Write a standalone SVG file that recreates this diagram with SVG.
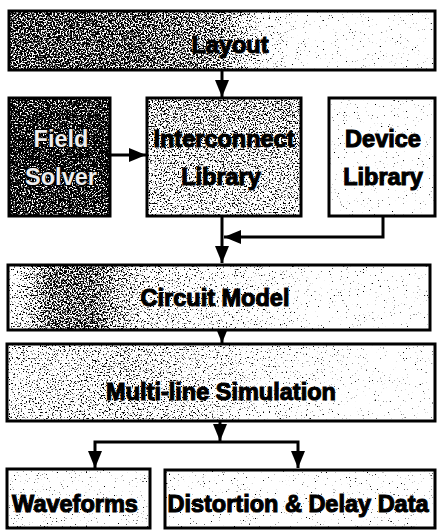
<svg xmlns="http://www.w3.org/2000/svg" width="437" height="530" viewBox="0 0 437 530">
  <style>
    .frame { fill: none; stroke: #000; stroke-width: 3; }
    .shade { filter: url(#stipple); }
    .lbl { font-family: "Liberation Sans", Arial, Helvetica, sans-serif; font-weight: bold; font-size: 23.5px; fill: #000; stroke: #000; stroke-width: 1.1; text-anchor: middle; }
    .inv { fill: #eeeeee; stroke: #000; stroke-width: 1.8; paint-order: stroke; }
    .wire { fill: none; stroke: #000; stroke-width: 3; }
  </style>
  <defs>
    <marker id="head" viewBox="0 0 17 14" refX="17" refY="7" markerWidth="17" markerHeight="14" markerUnits="userSpaceOnUse" orient="auto">
      <path d="M0 0 L17 7 L0 14 Z" fill="#000"/>
    </marker>
    <!-- stippled shading: grey level of the fill is dithered against noise -->
    <filter id="stipple" x="0" y="0" width="1" height="1" color-interpolation-filters="sRGB">
      <feTurbulence type="fractalNoise" baseFrequency="0.65" numOctaves="2" seed="7" result="noise"/>
      <feColorMatrix in="noise" type="matrix" values="1 0 0 0 0  1 0 0 0 0  1 0 0 0 0  0 0 0 0 1" result="grey"/>
      <feComposite in="SourceGraphic" in2="grey" operator="arithmetic" k1="0" k2="1" k3="1.8" k4="-0.9" result="mix"/>
      <feComponentTransfer in="mix">
        <feFuncR type="linear" slope="5" intercept="-2"/>
        <feFuncG type="linear" slope="5" intercept="-2"/>
        <feFuncB type="linear" slope="5" intercept="-2"/>
        <feFuncA type="linear" slope="0" intercept="1"/>
      </feComponentTransfer>
    </filter>
    <linearGradient id="gLayout" x1="0" y1="0" x2="1" y2="0">
      <stop offset="0" stop-color="#6a6a6a"/>
      <stop offset="0.3" stop-color="#707070"/>
      <stop offset="0.5" stop-color="#909090"/>
      <stop offset="0.62" stop-color="#e4e4e4"/>
      <stop offset="0.72" stop-color="#fafafa"/>
      <stop offset="1" stop-color="#fcfcfc"/>
    </linearGradient>
    <linearGradient id="gField" x1="0" y1="0" x2="0" y2="1">
      <stop offset="0" stop-color="#5a5a5a"/>
      <stop offset="0.5" stop-color="#4a4a4a"/>
      <stop offset="1" stop-color="#606060"/>
    </linearGradient>
    <linearGradient id="gInter" x1="0" y1="0" x2="0" y2="1">
      <stop offset="0" stop-color="#989898"/>
      <stop offset="1" stop-color="#b8b8b8"/>
    </linearGradient>
    <linearGradient id="gCircuit" x1="0" y1="0" x2="1" y2="0">
      <stop offset="0" stop-color="#d8d8d8"/>
      <stop offset="0.1" stop-color="#7a7a7a"/>
      <stop offset="0.2" stop-color="#7a7a7a"/>
      <stop offset="0.32" stop-color="#c0c0c0"/>
      <stop offset="0.55" stop-color="#d8d8d8"/>
      <stop offset="0.72" stop-color="#f6f6f6"/>
      <stop offset="1" stop-color="#fcfcfc"/>
    </linearGradient>
    <linearGradient id="gMulti" x1="0" y1="0" x2="1" y2="0">
      <stop offset="0" stop-color="#c8c8c8"/>
      <stop offset="0.3" stop-color="#b4b4b4"/>
      <stop offset="0.6" stop-color="#dcdcdc"/>
      <stop offset="0.8" stop-color="#f8f8f8"/>
      <stop offset="1" stop-color="#fcfcfc"/>
    </linearGradient>
  </defs>

  <!-- connectors -->
  <g id="connectors">
    <line class="wire" x1="222" y1="71" x2="222" y2="97" marker-end="url(#head)"/>
    <line class="wire" x1="110" y1="155" x2="146" y2="155" marker-end="url(#head)"/>
    <line class="wire" x1="222" y1="216" x2="222" y2="263" marker-end="url(#head)"/>
    <path class="wire" d="M383 216 V237 H224" marker-end="url(#head)"/>
    <line class="wire" x1="222" y1="330" x2="222" y2="343" marker-end="url(#head)"/>
    <line class="wire" x1="220" y1="421" x2="220" y2="441" marker-end="url(#head)"/>
    <path class="wire" d="M220 442 H95 V468" marker-end="url(#head)"/>
    <path class="wire" d="M220 442 H298 V468" marker-end="url(#head)"/>
  </g>

  <g id="layout">
    <rect class="shade" x="9" y="11" width="426" height="59" fill="url(#gLayout)"/>
    <rect class="frame" x="9" y="11" width="426" height="59"/>
    <text class="lbl" x="230" y="53">Layout</text>
  </g>

  <g id="field-solver">
    <rect class="shade" x="9" y="98" width="101" height="118" fill="url(#gField)"/>
    <rect class="frame" x="9" y="98" width="101" height="118"/>
    <text class="lbl inv" x="61" y="147">Field</text>
    <text class="lbl inv" x="61" y="185">Solver</text>
  </g>

  <g id="interconnect-library">
    <rect class="shade" x="147" y="98" width="154" height="118" fill="url(#gInter)"/>
    <rect class="frame" x="147" y="98" width="154" height="118"/>
    <text class="lbl" x="224" y="147">Interconnect</text>
    <text class="lbl" x="221" y="185">Library</text>
  </g>

  <g id="device-library">
    <rect class="shade" x="329" y="98" width="106" height="118" fill="#fcfcfc"/>
    <rect class="frame" x="329" y="98" width="106" height="118"/>
    <text class="lbl" x="383" y="147">Device</text>
    <text class="lbl" x="383" y="185">Library</text>
  </g>

  <g id="circuit-model">
    <rect class="shade" x="8" y="265" width="422" height="65" fill="url(#gCircuit)"/>
    <rect class="frame" x="8" y="265" width="422" height="65"/>
    <text class="lbl" x="215" y="306">Circuit Model</text>
  </g>

  <g id="multi-line-simulation">
    <rect class="shade" x="7" y="344" width="428" height="77" fill="url(#gMulti)"/>
    <rect class="frame" x="7" y="344" width="428" height="77"/>
    <text class="lbl" x="221" y="400">Multi-line Simulation</text>
  </g>

  <g id="waveforms">
    <rect class="shade" x="7" y="469" width="143" height="59" fill="#f2f2f2"/>
    <rect class="frame" x="7" y="469" width="143" height="59"/>
    <text class="lbl" x="75" y="512">Waveforms</text>
  </g>

  <g id="distortion-delay">
    <rect class="shade" x="165" y="470" width="270" height="58" fill="#f8f8f8"/>
    <rect class="frame" x="165" y="470" width="270" height="58"/>
    <text class="lbl" x="298" y="512">Distortion &amp; Delay Data</text>
  </g>
</svg>
